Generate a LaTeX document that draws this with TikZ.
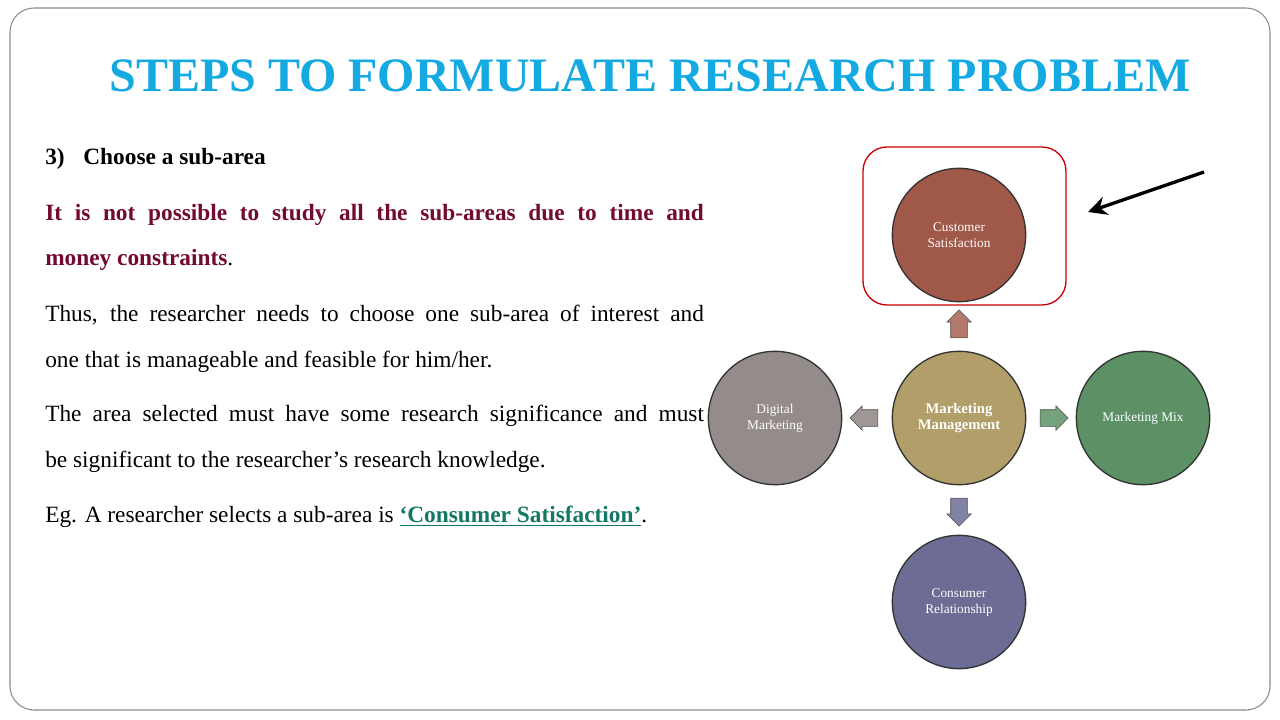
\documentclass[tikz,border=0pt]{standalone}
\usepackage{fontspec}
\setmainfont{Liberation Serif}
\usetikzlibrary{shapes.arrows,arrows.meta}
\definecolor{titleblue}{RGB}{20,170,225}
\definecolor{darkred}{RGB}{115,10,50}
\definecolor{teal}{RGB}{20,120,100}
\definecolor{csbrown}{RGB}{160,88,72}
\definecolor{mmgold}{RGB}{178,158,105}
\definecolor{dmgrey}{RGB}{148,140,138}
\definecolor{mxgreen}{RGB}{92,145,102}
\definecolor{crblue}{RGB}{108,108,148}
\tikzset{
  bubble/.style={circle, draw=black!80, line width=1pt, minimum size=100pt,
    inner sep=0pt, text=white, align=center, font=\fontsize{10}{12}\selectfont},
  blockarrow/.style={single arrow, draw=black!70, minimum height=21pt,
    inner sep=6pt, single arrow head extend=3pt},
  para/.style={anchor=north west, text width=494pt, align=justify, inner sep=0pt,
    font=\fontsize{17.5}{34}\selectfont}
}
\begin{document}
\begin{tikzpicture}[x=0.75pt, y=-0.75pt]
\useasboundingbox (0,0) rectangle (1280,720);
\draw[black!45, line width=0.8pt, rounded corners=18pt] (10,8) rectangle (1270,710);
\node[text=titleblue, font=\fontsize{36}{40}\bfseries\selectfont] (title) at (650,76)
  {STEPS TO FORMULATE RESEARCH PROBLEM};

% text column
\node[anchor=base west, inner sep=0pt, font=\fontsize{17.5}{18}\bfseries\selectfont] (step) at (45,165)
  {3)\hspace{14pt}Choose a sub-area};
\node[para] (p1) at (45,204) {\textcolor{darkred}{\bfseries It is not possible to study all the sub-areas due to time and\linebreak money constraints}.};
\node[para] (p2) at (45,305) {Thus, the researcher needs to choose one sub-area of interest and\linebreak one that is manageable and feasible for him/her.};
\node[para] (p3) at (45,405) {The area selected must have some research significance and must\linebreak be significant to the researcher’s research knowledge.};
\node[para] (p4) at (45,506) {Eg. A researcher selects a sub-area is \textcolor{teal}{\bfseries\underline{‘Consumer Satisfaction’}}.};

% diagram
\node[bubble, fill=mmgold, font=\fontsize{11}{12}\bfseries\selectfont] (mm) at (959,418) {Marketing\\Management};
\node[bubble, fill=csbrown] (cs) at (959,235) {Customer\\Satisfaction};
\node[bubble, fill=dmgrey] (dm) at (775,418) {Digital\\Marketing};
\node[bubble, fill=mxgreen] (mx) at (1143,418) {Marketing Mix};
\node[bubble, fill=crblue] (cr) at (959,602) {Consumer\\Relationship};
\node[blockarrow, fill=csbrown!80, rotate=90] (up) at (959,328) {};
\node[blockarrow, fill=dmgrey!90, rotate=180] (lt) at (868,418) {};
\node[blockarrow, fill=mxgreen!85] (rt) at (1050,418) {};
\node[blockarrow, fill=crblue!85, rotate=-90] (dn) at (959,508) {};
\draw[red!80!black, line width=1pt, rounded corners=18pt] (863,147) rectangle (1066,305);
\coordinate (tail) at (1204,172);
\coordinate (tip) at (1088,212);
\draw[-{Stealth[length=14pt,width=14pt]}, line width=2.5pt] (tail) -- (tip);
\end{tikzpicture}
\end{document}
